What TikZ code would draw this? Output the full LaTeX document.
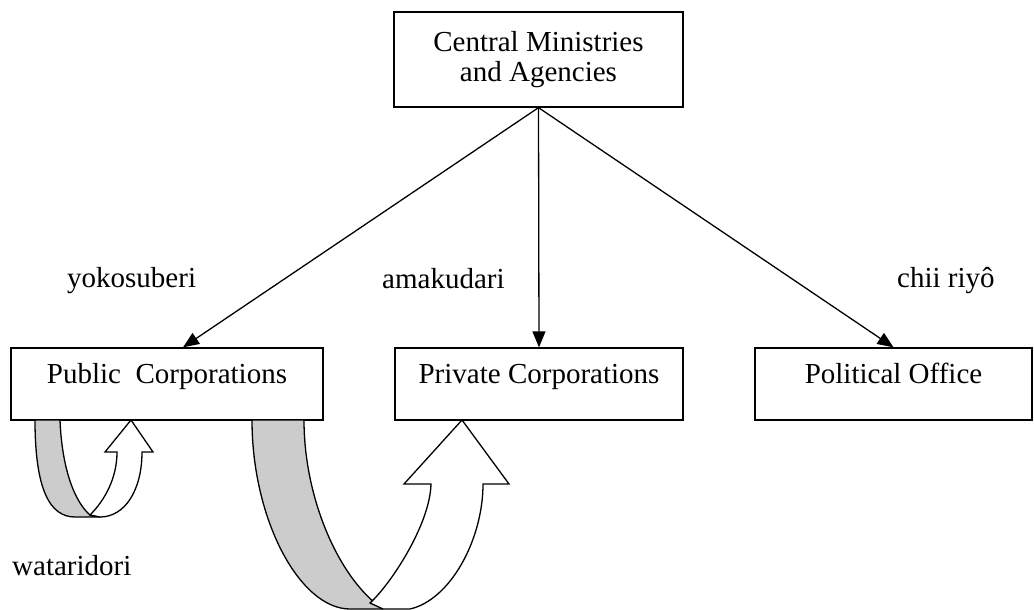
\documentclass[tikz,border=0pt]{standalone}
\usepackage{fontspec}
\setmainfont{Liberation Serif}
\usetikzlibrary{arrows.meta}
\begin{document}
\begin{tikzpicture}[x=1pt,y=-1pt,
  every node/.style={font=\fontsize{29}{29}\selectfont},
  box/.style={draw,line width=1.3pt,inner sep=0pt,text height=20pt,text depth=22pt},
  link/.style={line width=1.3pt,-{Triangle[length=16pt,width=13pt]}},
  backband/.style={draw,line width=1.3pt,fill=black!20,line join=round},
  frontband/.style={draw,line width=1.3pt,fill=white,line join=miter}]
\useasboundingbox (0,0) rectangle (1034,610);
\node[draw,line width=1.3pt,minimum width=289pt,minimum height=95pt,align=center,inner sep=0pt] (cm) at (538.5,59.5) {Central Ministries\\[1pt]and Agencies};
\node[box,minimum width=312pt,minimum height=72pt] (pub) at (167,384) {Public\ \ Corporations};
\node[box,minimum width=288pt,minimum height=72pt] (priv) at (539,384) {Private Corporations};
\node[box,minimum width=277pt,minimum height=72pt] (pol) at (893.5,384) {Political Office};
\node[anchor=base west,inner sep=0pt] (yoko) at (67,287) {yokosuberi};
\node[anchor=base west,inner sep=0pt] (ama) at (382,288) {amakudari};
\node[anchor=base west,inner sep=0pt] (chii) at (897,287) {chii riyô};
\node[anchor=base west,inner sep=0pt] (wata) at (12,575) {wataridori};
\draw[link] (cm.south) -- ([xshift=16pt]pub.north);
\draw[link] (cm.south) -- (priv.north);
\draw[link] (cm.south) -- (pol.north);
% small curved up arrow (wataridori)
\draw[backband] (35,420) -- (60,420) .. controls (62,470) and (75,502) .. (90,515) -- (100,517) -- (75,517) .. controls (50,517) and (35,490) .. (35,420) -- cycle;
\draw[frontband] (90,515) .. controls (105,500) and (117,478) .. (117,452) -- (105,452) -- (131,420) -- (153,452) -- (142,452) .. controls (142,490) and (125,517) .. (100,517) -- cycle;
% large curved up arrow
\draw[backband] (252,420) -- (304,420) .. controls (304,500) and (340,580) .. (383,609) -- (350,609) .. controls (300,609) and (252,520) .. (252,420) -- cycle;
\draw[frontband] (370,603) .. controls (390,585) and (430,525) .. (431,484) -- (404,484) -- (462,420) -- (509,484) -- (483,484) .. controls (483,540) and (450,600) .. (410,609) -- (383,609) -- cycle;
\end{tikzpicture}
\end{document}
